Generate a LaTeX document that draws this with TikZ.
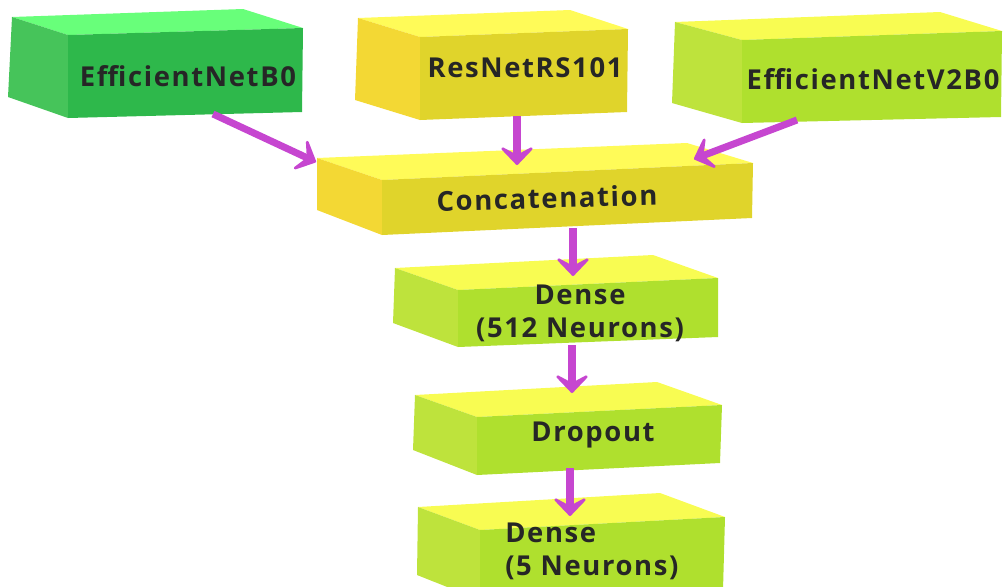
\documentclass[tikz,border=0pt]{standalone}
\usepackage{fontspec}
\setmainfont{Open Sans}[LetterSpace=6]
\usepackage{tikz}
\usetikzlibrary{arrows.meta}
\usetikzlibrary{positioning}

\definecolor{greenFront}{HTML}{2EB84B}
\definecolor{greenTop}{HTML}{68FF7A}
\definecolor{greenSide}{HTML}{46C45A}
\definecolor{yellowFront}{HTML}{E0D42B}
\definecolor{yellowTop}{HTML}{FFFB58}
\definecolor{yellowSide}{HTML}{F3D834}
\definecolor{limeFront}{HTML}{AFE02E}
\definecolor{limeTop}{HTML}{F8FC52}
\definecolor{limeSide}{HTML}{BEE33C}
\definecolor{flowColor}{HTML}{C646D0}
\definecolor{labelColor}{HTML}{262626}

% block: #1 colour, then top back-left, top back-right, top front-right,
% top front-left, bottom front-left, bottom front-right, bottom back-left
\newcommand{\tikzBlock}[8]{%
  \fill[#1Top] #2 -- #3 -- #4 -- #5 -- cycle;
  \fill[#1Side] #2 -- #5 -- #6 -- #8 -- cycle;
  \fill[#1Front] #5 -- #4 -- #7 -- #6 -- cycle;
}

\begin{document}
\begin{tikzpicture}[x=0.025cm,y=-0.025cm,
    label/.style={text=labelColor,font=\bfseries\fontsize{19.5}{23.5}\selectfont,inner sep=0pt},
    flow/.style={draw=flowColor,line width=5pt,
      -{Stealth[length=0.55cm,width=1.05cm,inset=0.28cm,round]}}]
  \useasboundingbox (0,0) rectangle (1005,586);
  \clip (0,0) rectangle (1005,586);

  % three backbones
  \tikzBlock{green}{(12,17)}{(243,9)}{(303,28)}{(68,35)}{(68,118)}{(302,112)}{(8,97)}
  \tikzBlock{yellow}{(358,18)}{(570,10)}{(628,29)}{(420,37)}{(420,120)}{(627,112)}{(355,100)}
  \tikzBlock{lime}{(675,22)}{(940,12)}{(1002,31)}{(742,40)}{(742,123)}{(1001,117)}{(672,103)}
  \node[label] (effb0) at (188,76) {EfficientNetB0};
  \node[label] (resnet) at (525,68) {ResNetRS101};
  \node[label] (effv2) at (873,79) {EfficientNetV2B0};

  % head layers
  \tikzBlock{yellow}{(317,158)}{(687,143)}{(753,163)}{(382,180)}{(382,235)}{(752,218)}{(317,210)}
  \tikzBlock{lime}{(395,268)}{(653,255)}{(718,278)}{(458,290)}{(458,347)}{(718,337)}{(393,323)}
  \tikzBlock{lime}{(415,395)}{(657,382)}{(722,405)}{(477,417)}{(477,475)}{(720,463)}{(413,450)}
  \tikzBlock{lime}{(418,507)}{(660,493)}{(725,517)}{(480,530)}{(480,600)}{(723,590)}{(417,575)}
  \node[label,rotate=1.5] (concat) at (547,198) {Concatenation};
  \node[label,align=center] (dense1) at (580,313) {Dense\\(512 Neurons)};
  \node[label] (drop) at (593,435) {Dropout};
  \node[label,align=left,anchor=west] (dense2) at (505,551) {Dense\\(5 Neurons)};

  % arrow ends
  \coordinate (effb0Out) at (213,114);
  \coordinate (resnetOut) at (517,116);
  \coordinate (effv2Out) at (797,120);
  \coordinate (concatInA) at (316,162);
  \coordinate (concatInB) at (517,165);
  \coordinate (concatInC) at (694,159);
  \coordinate (concatOut) at (573,228);
  \coordinate (dense1In) at (573,276);
  \coordinate (dense1Out) at (572,345);
  \coordinate (dropIn) at (572,393);
  \coordinate (dropOut) at (570,468);
  \coordinate (dense2In) at (570,516);

  \draw[flow] (effb0Out) -- (concatInA);
  \draw[flow] (resnetOut) -- (concatInB);
  \draw[flow] (effv2Out) -- (concatInC);
  \draw[flow] (concatOut) -- (dense1In);
  \draw[flow] (dense1Out) -- (dropIn);
  \draw[flow] (dropOut) -- (dense2In);
\end{tikzpicture}
\end{document}
